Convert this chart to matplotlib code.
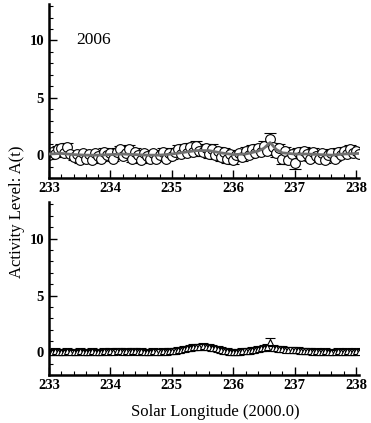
import matplotlib
matplotlib.use("Agg")
import matplotlib.pyplot as plt
from matplotlib.ticker import MultipleLocator

# ---- data ----
x_top = [233.00, 233.05, 233.10, 233.15, 233.20, 233.25, 233.30, 233.35, 233.40, 233.45,
         233.50, 233.55, 233.60, 233.65, 233.70, 233.75, 233.80, 233.85, 233.90, 233.95,
         234.00, 234.05, 234.10, 234.15, 234.20, 234.25, 234.30, 234.35, 234.40, 234.45,
         234.50, 234.55, 234.60, 234.65, 234.70, 234.75, 234.80, 234.85, 234.90, 234.95,
         235.00, 235.05, 235.10, 235.15, 235.20, 235.25, 235.30, 235.35, 235.40, 235.45,
         235.50, 235.55, 235.60, 235.65, 235.70, 235.75, 235.80, 235.85, 235.90, 235.95,
         236.00, 236.05, 236.10, 236.15, 236.20, 236.25, 236.30, 236.35, 236.40, 236.45,
         236.50, 236.55, 236.60, 236.65, 236.70, 236.75, 236.80, 236.85, 236.90, 236.95,
         237.00, 237.05, 237.10, 237.15, 237.20, 237.25, 237.30, 237.35, 237.40, 237.45,
         237.50, 237.55, 237.60, 237.65, 237.70, 237.75, 237.80, 237.85, 237.90, 237.95,
         238.00, 238.05]
a_top = [0.0, 0.3, 0.1, 0.5, 0.6, 0.2, 0.7, 0.1, -0.2, 0.1,
         -0.4, 0.2, -0.3, 0.1, -0.4, 0.2, -0.1, -0.3, 0.3, 0.0,
         0.2, -0.3, 0.3, 0.5, -0.1, 0.2, 0.5, -0.3, 0.3, 0.0,
         -0.4, 0.2, -0.1, -0.3, 0.2, -0.3, 0.0, 0.3, -0.3, 0.2,
         -0.1, 0.3, 0.5, 0.1, 0.6, 0.2, 0.7, 0.3, 0.8, 0.4,
         0.3, 0.6, 0.1, 0.5, 0.0, 0.4, -0.2, 0.3, -0.3, 0.1,
         -0.4, 0.0, 0.2, -0.2, 0.4, 0.0, 0.5, 0.2, 0.6, 0.3,
         0.8, 0.4, 1.4, 0.7, 0.2, 0.6, -0.3, 0.4, -0.4, 0.1,
         -0.7, 0.3, -0.1, 0.4, 0.1, -0.3, 0.3, -0.1, -0.3, 0.2,
         -0.4, 0.0, 0.2, -0.3, 0.3, 0.0, 0.4, 0.1, 0.5, 0.2,
         0.4, 0.1]
e_top = [0.3, 0.25, 0.25, 0.3, 0.35, 0.25, 0.35, 0.25, 0.25, 0.3,
         0.25, 0.25, 0.25, 0.3, 0.25, 0.25, 0.25, 0.25, 0.3, 0.25,
         0.3, 0.25, 0.35, 0.3, 0.25, 0.25, 0.35, 0.3, 0.35, 0.25,
         0.3, 0.25, 0.25, 0.3, 0.25, 0.25, 0.25, 0.3, 0.25, 0.25,
         0.25, 0.3, 0.35, 0.25, 0.4, 0.3, 0.4, 0.35, 0.45, 0.35,
         0.35, 0.4, 0.35, 0.45, 0.3, 0.35, 0.3, 0.35, 0.35, 0.3,
         0.4, 0.3, 0.25, 0.3, 0.35, 0.25, 0.35, 0.3, 0.35, 0.3,
         0.4, 0.35, 0.5, 0.4, 0.35, 0.4, 0.45, 0.35, 0.4, 0.35,
         0.5, 0.35, 0.3, 0.35, 0.3, 0.25, 0.3, 0.25, 0.3, 0.25,
         0.3, 0.25, 0.3, 0.25, 0.3, 0.25, 0.35, 0.25, 0.35, 0.3,
         0.3, 0.25]

x_smooth = [233.0, 233.2, 233.4, 233.6, 233.8, 234.0, 234.2, 234.4, 234.6, 234.8,
            235.0, 235.2, 235.4, 235.6, 235.8, 236.0, 236.2, 236.4, 236.5, 236.6,
            236.7, 236.8, 237.0, 237.2, 237.4, 237.6, 237.8, 238.05]
a_smooth = [0.1, 0.15, 0.05, 0.0, 0.0, 0.05, 0.1, 0.05, 0.0, 0.0,
            0.1, 0.25, 0.4, 0.4, 0.2, 0.05, 0.1, 0.35, 0.6, 1.1,
            0.5, 0.2, 0.1, 0.1, 0.05, 0.0, 0.1, 0.15]

x_bot = x_top
a_bot = [0.05, 0.0, 0.1, 0.05, 0.05, 0.0, 0.1, 0.05, 0.0, 0.05,
         0.1, 0.05, 0.0, 0.05, 0.1, 0.05, 0.0, 0.05, 0.1, 0.05,
         0.1, 0.05, 0.1, 0.1, 0.05, 0.1, 0.05, 0.1, 0.1, 0.05,
         0.1, 0.05, 0.0, 0.05, 0.1, 0.05, 0.05, 0.1, 0.05, 0.1,
         0.1, 0.15, 0.2, 0.25, 0.3, 0.35, 0.4, 0.45, 0.5, 0.5,
         0.55, 0.5, 0.45, 0.4, 0.35, 0.3, 0.2, 0.15, 0.1, 0.05,
         0.0, 0.05, 0.05, 0.1, 0.1, 0.15, 0.2, 0.25, 0.3, 0.35,
         0.4, 0.5, 0.9, 0.4, 0.35, 0.3, 0.3, 0.25, 0.25, 0.2,
         0.2, 0.2, 0.15, 0.15, 0.1, 0.1, 0.05, 0.1, 0.05, 0.05,
         0.1, 0.05, 0.0, 0.05, 0.1, 0.05, 0.05, 0.1, 0.05, 0.05,
         0.1, 0.05]
e_bot = [0.25, 0.25, 0.25, 0.25, 0.25, 0.25, 0.25, 0.25, 0.25, 0.25,
         0.25, 0.25, 0.25, 0.25, 0.25, 0.25, 0.25, 0.25, 0.25, 0.25,
         0.25, 0.25, 0.25, 0.25, 0.25, 0.25, 0.25, 0.25, 0.25, 0.25,
         0.25, 0.25, 0.25, 0.25, 0.25, 0.25, 0.25, 0.25, 0.25, 0.25,
         0.25, 0.25, 0.25, 0.25, 0.25, 0.25, 0.25, 0.25, 0.25, 0.25,
         0.25, 0.25, 0.25, 0.25, 0.25, 0.25, 0.25, 0.25, 0.25, 0.25,
         0.25, 0.25, 0.25, 0.25, 0.25, 0.25, 0.25, 0.25, 0.25, 0.25,
         0.25, 0.25, 0.35, 0.25, 0.25, 0.25, 0.25, 0.25, 0.25, 0.25,
         0.25, 0.25, 0.25, 0.25, 0.25, 0.25, 0.25, 0.25, 0.25, 0.25,
         0.25, 0.25, 0.25, 0.25, 0.25, 0.25, 0.25, 0.25, 0.25, 0.25,
         0.25, 0.25]

year_label = "2006"
xticks = [233, 234, 235, 236, 237, 238]
yticks = [0, 5, 10]

# ---- figure ----
plt.rcParams['font.family'] = ['Liberation Serif', 'DejaVu Serif']
fig = plt.figure(figsize=(3.71, 4.23), dpi=100)
ax1 = fig.add_axes([0.132, 0.579, 0.836, 0.412])
ax2 = fig.add_axes([0.132, 0.113, 0.836, 0.409])

for ax in (ax1, ax2):
    ax.set_xlim(233.0, 238.05)
    ax.set_ylim(-2.0, 13.2)
    for s in ('top', 'right'):
        ax.spines[s].set_visible(False)
    for s in ('left', 'bottom'):
        ax.spines[s].set_linewidth(1.8)
    ax.set_xticks(xticks)
    ax.set_yticks(yticks)
    ax.xaxis.set_minor_locator(MultipleLocator(0.2))
    ax.yaxis.set_minor_locator(MultipleLocator(1))
    ax.tick_params(which='major', direction='in', length=6, width=1.0, labelsize=10.5)
    ax.tick_params(which='minor', direction='in', length=3, width=0.8)
    ax.tick_params(axis='x', pad=3)
    for lab in ax.get_xticklabels() + ax.get_yticklabels():
        lab.set_fontweight('bold')

ax1.errorbar(x_top, a_top, yerr=e_top, fmt='o', ms=7, mfc='white', mec='black',
             mew=0.8, ecolor='black', elinewidth=0.8, capsize=4.5, capthick=0.9, zorder=2)
ax1.plot(x_smooth, a_smooth, color='#707070', lw=2.0, zorder=3)
ax1.text(233.45, 10.0, year_label, fontsize=12.5, va='center', ha='left')

ax2.errorbar(x_bot, a_bot, yerr=e_bot, fmt='^', ms=5, mfc='white', mec='black',
             mew=0.8, ecolor='black', elinewidth=0.8, capsize=3.5, capthick=2.2, zorder=2)

fig.text(0.045, 0.5, "Activity Level: A(t)", rotation=90, fontsize=12,
         ha='center', va='center')
fig.text(0.58, 0.027, "Solar Longitude (2000.0)", fontsize=12, ha='center', va='center')

fig.savefig("out.png", dpi=100)
